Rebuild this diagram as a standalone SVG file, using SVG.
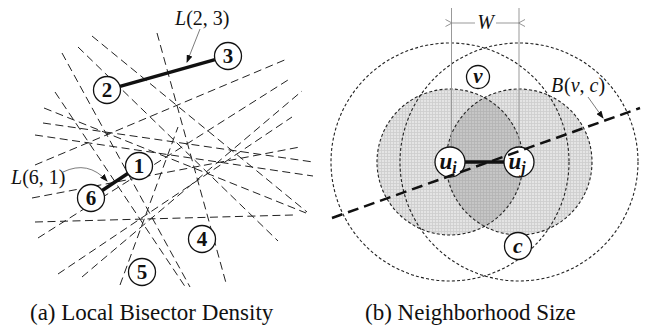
<svg xmlns="http://www.w3.org/2000/svg" width="648" height="332" viewBox="0 0 648 332">
<style>
.bis{stroke:#222;stroke-width:1;stroke-dasharray:8,4.5;fill:none}
.node{fill:#fff;stroke:#111;stroke-width:1.3}
.num{font-family:"Liberation Serif",serif;font-weight:bold;font-size:21px;text-anchor:middle;fill:#111}
.lbl{font-family:"Liberation Serif",serif;font-size:20px;fill:#111}
.heavy{stroke:#111;stroke-width:3.5;stroke-linecap:butt}
.thin{stroke:#444;stroke-width:0.7;fill:none}
.circ{fill:none;stroke:#222;stroke-width:1.1;stroke-dasharray:3,2.2}
.dim{stroke:#999;stroke-width:1;fill:none}
.cap{font-family:"Liberation Serif",serif;font-size:23px;fill:#111}
.var{font-family:"Liberation Serif",serif;font-weight:bold;font-style:italic;fill:#111}
</style>
<defs>
<pattern id="gridL" width="3" height="3" patternUnits="userSpaceOnUse">
<rect width="3" height="3" fill="#e4e4e4"/>
<path d="M0,0.5H3M0.5,0V3" stroke="#cdcdcd" stroke-width="0.8"/>
</pattern>
<pattern id="gridD" width="3" height="3" patternUnits="userSpaceOnUse">
<rect width="3" height="3" fill="#c6c6c6"/>
<path d="M0,0.5H3M0.5,0V3" stroke="#b4b4b4" stroke-width="0.8"/>
</pattern>
<clipPath id="clipR"><circle cx="519" cy="162" r="73"/></clipPath>
<marker id="ah" markerWidth="8" markerHeight="6" refX="7" refY="3" orient="auto" markerUnits="userSpaceOnUse">
<path d="M0,0L8,3L0,6z" fill="#111"/>
</marker>
<marker id="open" markerWidth="8" markerHeight="8" refX="0.5" refY="4" orient="auto-start-reverse" markerUnits="userSpaceOnUse">
<path d="M7,0.5L0.5,4L7,7.5" fill="none" stroke="#888" stroke-width="0.9"/>
</marker>
</defs>

<!-- (a) Local Bisector Density -->
<g id="bisectors">
<line class="bis" x1="35" y1="165" x2="287" y2="59"/>
<line class="bis" x1="92" y1="36" x2="307" y2="212"/>
<line class="bis" x1="82" y1="277" x2="302" y2="91"/>
<line class="bis" x1="35" y1="222" x2="293" y2="215"/>
<line class="bis" x1="55" y1="92" x2="186" y2="288"/>
<line class="bis" x1="157" y1="33" x2="226" y2="283"/>
<line class="bis" x1="38" y1="238" x2="288" y2="80"/>
<line class="bis" x1="32" y1="198" x2="300" y2="147"/>
<line class="bis" x1="35" y1="135" x2="313" y2="176"/>
<line class="bis" x1="43" y1="123" x2="313" y2="162"/>
<line class="bis" x1="44" y1="108" x2="306" y2="213"/>
<line class="bis" x1="78" y1="47" x2="278" y2="241"/>
<line class="bis" x1="62" y1="53" x2="190" y2="287"/>
<line class="bis" x1="120" y1="285" x2="178" y2="127"/>
<line class="bis" x1="58" y1="274" x2="292" y2="117"/>
</g>
<g id="connectors-a">
<line class="heavy" x1="120" y1="86.4" x2="215" y2="59.6"/>
<line class="heavy" x1="102.2" y1="190.5" x2="127.8" y2="173.5"/>
<line class="thin" x1="200" y1="29" x2="187" y2="62" marker-end="url(#ah)"/>
<path class="thin" d="M63,172 Q88,160 107,181" marker-end="url(#ah)"/>
</g>
<g id="label-L23"><text class="lbl" x="175" y="25"><tspan font-style="italic">L</tspan>(2, 3)</text></g>
<g id="label-L61"><text class="lbl" x="11" y="184"><tspan font-style="italic">L</tspan>(6, 1)</text></g>
<g id="node-1"><circle class="node" cx="139" cy="166" r="13.5"/><text class="num" x="139" y="173">1</text></g>
<g id="node-2"><circle class="node" cx="107" cy="90" r="13.5"/><text class="num" x="107" y="97">2</text></g>
<g id="node-3"><circle class="node" cx="228" cy="56" r="13.5"/><text class="num" x="228" y="63">3</text></g>
<g id="node-4"><circle class="node" cx="202" cy="239" r="13.5"/><text class="num" x="202" y="246">4</text></g>
<g id="node-5"><circle class="node" cx="142" cy="272" r="13.5"/><text class="num" x="142" y="279">5</text></g>
<g id="node-6"><circle class="node" cx="91" cy="198" r="13.5"/><text class="num" x="91" y="205">6</text></g>

<!-- (b) Neighborhood Size -->
<g id="regions">
<circle cx="450" cy="162" r="73" fill="url(#gridL)"/>
<circle cx="519" cy="162" r="73" fill="url(#gridL)"/>
<circle cx="450" cy="162" r="73" fill="url(#gridD)" clip-path="url(#clipR)"/>
<circle class="circ" cx="450" cy="162" r="73"/>
<circle class="circ" cx="519" cy="162" r="73"/>
<circle class="circ" cx="450" cy="162" r="119"/>
<circle class="circ" cx="519" cy="162" r="119"/>
</g>
<g id="dimension-W">
<line class="dim" x1="451.5" y1="8" x2="451.5" y2="147"/>
<line class="dim" x1="519" y1="8" x2="519" y2="147"/>
<line class="dim" x1="452" y1="23" x2="475" y2="23" marker-start="url(#open)"/>
<line class="dim" x1="496" y1="23" x2="518.5" y2="23" marker-end="url(#open)"/>
<text class="lbl" x="485.5" y="29" text-anchor="middle" font-style="italic" font-size="19">W</text>
</g>
<g id="node-v"><circle class="node" cx="478" cy="77" r="11.5"/><text class="var" x="478" y="83" font-size="21" text-anchor="middle">v</text></g>
<g id="node-c"><circle class="node" cx="518" cy="246" r="13.5"/><text class="var" x="518" y="252.5" font-size="22" text-anchor="middle">c</text></g>
<g id="node-ui"><circle class="node" cx="450" cy="162" r="15"/><text class="var" x="448" y="168.5" font-size="23" text-anchor="middle">u<tspan font-size="16" dy="4">i</tspan></text></g>
<g id="node-uj"><circle class="node" cx="519" cy="162" r="15"/><text class="var" x="517" y="168.5" font-size="23" text-anchor="middle">u<tspan font-size="16" dy="4">j</tspan></text></g>
<g id="connectors-b">
<line class="heavy" x1="465" y1="162" x2="504" y2="162" stroke-width="4"/>
<line x1="332" y1="218" x2="640" y2="108" stroke="#111" stroke-width="2.5" stroke-dasharray="11,6"/>
<line class="thin" x1="588" y1="97" x2="603" y2="118" marker-end="url(#ah)"/>
</g>
<g id="label-B"><text class="lbl" x="551" y="92" font-style="italic">B</text><text class="lbl" x="564" y="92">(<tspan font-style="italic">v</tspan>, <tspan font-style="italic">c</tspan>)</text></g>

<g id="captions">
<text class="cap" x="30" y="320">(a)  Local Bisector Density</text>
<text class="cap" x="365" y="320">(b)  Neighborhood Size</text>
</g>
</svg>
